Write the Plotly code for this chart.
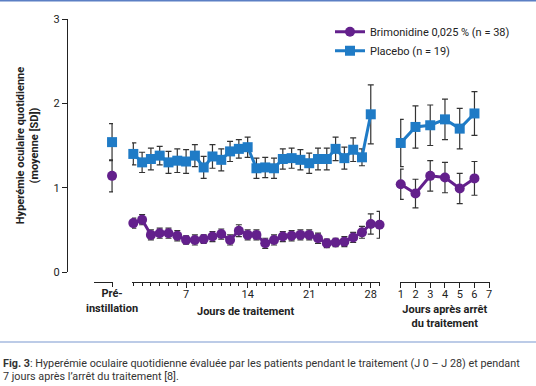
import plotly.graph_objects as go

# ---------------- data ----------------
pre_x = [0]
pre_tick_text = ["<b>Pré-<br>instillation</b>"]
brimo_pre = [1.14]
brimo_pre_sd = [0.19]
placebo_pre = [1.54]
placebo_pre_sd = [0.22]

brimo_days = list(range(1, 30))
brimo_treat = [0.58, 0.62, 0.44, 0.46, 0.46, 0.43, 0.38, 0.38, 0.39, 0.42,
               0.45, 0.38, 0.49, 0.44, 0.44, 0.34, 0.38, 0.42, 0.43, 0.44,
               0.44, 0.40, 0.34, 0.35, 0.36, 0.41, 0.47, 0.57, 0.56]
brimo_treat_sd = [0.06, 0.06, 0.06, 0.06, 0.06, 0.06, 0.05, 0.06, 0.05, 0.06,
                  0.06, 0.06, 0.07, 0.06, 0.06, 0.06, 0.06, 0.06, 0.06, 0.06,
                  0.06, 0.06, 0.05, 0.05, 0.06, 0.06, 0.07, 0.12, 0.16]

placebo_days = list(range(1, 29))
placebo_treat = [1.40, 1.30, 1.34, 1.38, 1.30, 1.32, 1.31, 1.38, 1.24, 1.37,
                 1.33, 1.43, 1.46, 1.48, 1.23, 1.24, 1.23, 1.34, 1.35, 1.33,
                 1.29, 1.34, 1.34, 1.46, 1.35, 1.45, 1.36, 1.87]
placebo_treat_sd = [0.13, 0.12, 0.13, 0.11, 0.13, 0.14, 0.14, 0.13, 0.13, 0.14,
                    0.13, 0.12, 0.11, 0.12, 0.12, 0.12, 0.12, 0.12, 0.12, 0.12,
                    0.12, 0.13, 0.13, 0.14, 0.13, 0.14, 0.10, 0.35]

treat_ticks = [7, 14, 21, 28]

post_days = [1, 2, 3, 4, 5, 6]
post_ticks = [1, 2, 3, 4, 5, 6, 7]
brimo_post = [1.04, 0.93, 1.14, 1.12, 0.99, 1.11]
brimo_post_sd = [0.18, 0.17, 0.18, 0.18, 0.18, 0.20]
placebo_post = [1.53, 1.72, 1.74, 1.81, 1.70, 1.88]
placebo_post_sd = [0.28, 0.25, 0.24, 0.24, 0.24, 0.26]

y_ticks = [0, 1, 2, 3]

brimo_name = "Brimonidine 0,025 % (n = 38)"
placebo_name = "Placebo (n = 19)"
caption_1 = "<b>Fig. 3</b>: Hyperémie oculaire quotidienne évaluée par les patients pendant le traitement (J 0 – J 28) et pendant"
caption_2 = "7 jours après l’arrêt du traitement [8]."

# ---------------- style ----------------
PURPLE = "#63208c"
BLUE = "#1f7bc6"
ERR = "#333333"
AX = "#222222"
FONT = "Roboto"

fig = go.Figure()


def err(sd):
    return dict(type="data", array=sd, visible=True, color=ERR, thickness=1.2, width=3)


def add(xs, ys, sd, color, symbol, xaxis, name, legend, legend_id, mode="lines+markers"):
    fig.add_trace(go.Scatter(
        x=xs, y=ys, mode=mode, name=name, legendgroup=name, showlegend=legend,
        legend=legend_id,
        xaxis=xaxis, yaxis="y", cliponaxis=False,
        line=dict(color=color, width=3),
        marker=dict(color=color, symbol=symbol, size=10, line=dict(width=0)),
        error_y=err(sd),
    ))


add(brimo_days, brimo_treat, brimo_treat_sd, PURPLE, "circle", "x2", brimo_name, True, "legend")
add(placebo_days, placebo_treat, placebo_treat_sd, BLUE, "square", "x2", placebo_name, True, "legend2")
add(pre_x, brimo_pre, brimo_pre_sd, PURPLE, "circle", "x", brimo_name, False, "legend", mode="markers")
add(pre_x, placebo_pre, placebo_pre_sd, BLUE, "square", "x", placebo_name, False, "legend2", mode="markers")
add(post_days, brimo_post, brimo_post_sd, PURPLE, "circle", "x3", brimo_name, False, "legend")
add(post_days, placebo_post, placebo_post_sd, BLUE, "square", "x3", placebo_name, False, "legend2")

L, R, T, B = 67, 36, 19, 104
W, H = 536, 386
pw = W - L - R
ph = H - T - B
BOT = T + ph  # pixel row of the plot-area bottom


def fx(px):
    return (px - L) / pw


def fy(py):
    return (BOT - py) / ph


base_x = dict(showgrid=False, zeroline=False, showline=True, linecolor=AX, linewidth=1.3,
              ticks="outside", tickcolor=AX, tickwidth=1.3, anchor="free", position=0,
              automargin=False, ticklabelstandoff=-3,
              tickfont=dict(family=FONT, size=11, color=AX), fixedrange=True)

legend_base = dict(xanchor="left", yanchor="middle", font=dict(family=FONT, size=11, color=AX),
                   bgcolor="rgba(0,0,0,0)", borderwidth=0)

fig.update_layout(
    template="none",
    width=W, height=H,
    margin=dict(l=L, r=R, t=T, b=B, pad=0),
    paper_bgcolor="white", plot_bgcolor="white",
    font=dict(family=FONT, size=11, color=AX),
    showlegend=True,
    legend=dict(legend_base, x=fx(330), y=fy(31.7)),
    legend2=dict(legend_base, x=fx(330), y=fy(50.7)),
    xaxis=dict(base_x, domain=[fx(94), fx(113)], range=[-0.95, 0.05],
               tickvals=pre_x, ticktext=pre_tick_text, ticklen=4),
    xaxis2=dict(base_x, domain=[fx(132), fx(380)], range=[0.85, 29.05],
                tickvals=treat_ticks, ticklen=5,
                minor=dict(dtick=1, tick0=0, ticklen=3, ticks="outside", tickcolor=AX, tickwidth=1)),
    xaxis3=dict(base_x, domain=[fx(400), fx(489.5)], range=[0.95, 7.02],
                tickvals=post_ticks, ticklen=5,
                title=dict(text="<b>Jours après arrêt<br>du traitement</b>", standoff=4,
                           font=dict(family=FONT, size=11, color=AX))),
    yaxis=dict(domain=[fy(272), 1],
               range=[0, 3], tickvals=y_ticks, anchor="free", position=0, automargin=False,
               showgrid=False, zeroline=False, showline=True, linecolor=AX, linewidth=1.3,
               ticks="outside", ticklen=5, tickcolor=AX, tickwidth=1.3,
               tickfont=dict(family=FONT, size=11, color=AX),
               title=dict(text="<b>Hyperémie oculaire quotidienne<br>(moyenne [SD])</b>",
                          standoff=11, font=dict(family=FONT, size=11, color=AX))),
)

# title for treatment axis placed under the day labels
fig.add_annotation(text="<b>Jours de traitement</b>", xref="x2", x=13.7, yref="paper", y=fy(311.5),
                   yanchor="middle", showarrow=False,
                   font=dict(family=FONT, size=11, color=AX))

# caption
fig.add_annotation(text=caption_1, xref="paper", x=fx(1), xanchor="left",
                   yref="paper", y=fy(363.5), yanchor="middle", showarrow=False,
                   align="left", font=dict(family=FONT, size=10.8, color="#333333"))
fig.add_annotation(text=caption_2, xref="paper", x=fx(1), xanchor="left",
                   yref="paper", y=fy(376.5), yanchor="middle", showarrow=False,
                   align="left", font=dict(family=FONT, size=10.8, color="#333333"))

# thin blue rules of the page layout
fig.add_shape(type="line", xref="paper", yref="paper", x0=fx(0), x1=fx(W),
              y0=fy(0.75), y1=fy(0.75), line=dict(color="#5b7fc4", width=1.5))
fig.add_shape(type="line", xref="paper", yref="paper", x0=fx(0), x1=fx(W),
              y0=fy(342), y1=fy(342), line=dict(color="#7b97cf", width=1.2))

fig.write_html("out.html", config={"displayModeBar": False},
               post_script="document.body.style.margin='0';")
